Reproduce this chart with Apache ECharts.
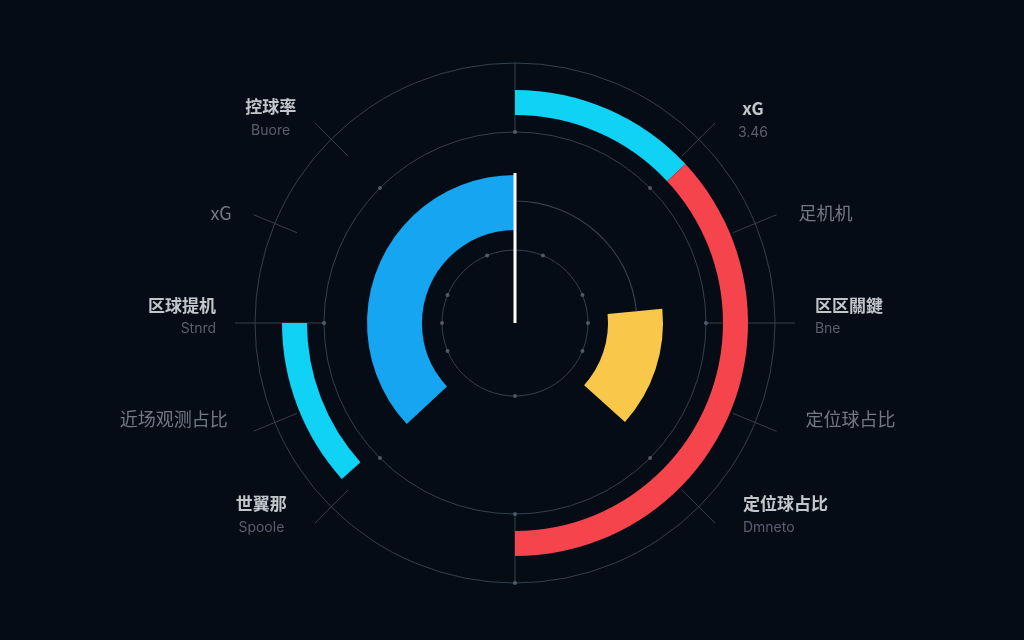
<!DOCTYPE html>
<html>
<head>
<meta charset="utf-8">
<title>Radial match profile</title>
<script src="https://cdn.jsdelivr.net/npm/echarts@6/dist/echarts.min.js"></script>
<style>
  html, body { margin: 0; padding: 0; background: #060c15; }
  #chart { width: 1024px; height: 640px; }
</style>
</head>
<body>
<div id="chart"></div>
<script>
// --- data (angles in degrees, clockwise from 12 o'clock) ---
const outerStarts = [0, 47, 228];
const outerEnds = [47, 180, 270];
const innerStarts = [84.5, 227];
const innerEnds = [132, 360];
const arcStarts = [0];
const arcEnds = [84.5];
const needleAngle = 0;
const needleLength = 150;

const labelTitles = ['控球率', 'xG', '区球提机', '近场观测占比', '世翼那',
  'xG', '足机机', '区区關鍵', '定位球占比', '定位球占比'];
const labelSubs = ['Buore', '', 'Stnrd', '', 'Spoole', '3.46', '', 'Bne', '', 'Dmneto'];
const spokeAngles = [315, 292.5, 270, 247.5, 225, 45, 67.5, 90, 112.5, 135, 0, 180];
const ringDotAngles = [0, 45, 90, 135, 180, 225, 270, 315];
const coreDotAngles = [22.5, 67.5, 90, 112.5, 180, 247.5, 270, 292.5, 337.5];

// --- theme / layout ---
const THEME = {
  bg: '#060c15',
  grid: '#33404e',
  dot: '#5b6977',
  title: '#f1f4f7',
  sub: '#6a7684',
  muted: '#8a96a3',
  cyan: '#10d2f4',
  red: '#f5444c',
  blue: '#16a5f0',
  yellow: '#f9c84b',
  needle: '#ffffff'
};
const CENTER = [515, 323];
const OUTER_COLORS = [THEME.cyan, THEME.red, THEME.cyan];
const INNER_COLORS = [THEME.yellow, THEME.blue];
// label anchor [radius, angle, align]
const LABEL_POS = [
  [319, 310, 'center'], [304, 291.2, 'right'], [299, 271.3, 'right'], [303, 251.5, 'right'], [318, 232.9, 'center'],
  [313, 49.5, 'center'], [304, 68.8, 'left'], [300, 88.7, 'left'], [306, 108.3, 'left'], [298, 130.1, 'left']
];

const chart = echarts.init(document.getElementById('chart'));

// polar list: 0 inner ring, 1 outer ring, 2 partial arc, 3-5 grid circles, 6 overlay
const polarRadii = [[93, 148], [208, 233], [121.4, 122.6], [0, 73], [0, 191], [0, 260], [0, 340]];

const polar = polarRadii.map(r => ({ center: CENTER, radius: r }));
const angleAxis = polarRadii.map((r, i) => ({
  polarIndex: i,
  type: 'value',
  min: 0,
  max: 360,
  startAngle: 90,
  clockwise: true,
  axisLine: { show: i >= 3 && i <= 5, lineStyle: { color: THEME.grid, width: 1 } },
  axisTick: { show: false },
  axisLabel: { show: false },
  splitLine: { show: false }
}));
const radiusAxis = polarRadii.map((r, i) => (i < 3
  ? { polarIndex: i, type: 'category', data: ['r'], show: false }
  : { polarIndex: i, type: 'value', min: 0, max: i === 6 ? 340 : 1, show: false }));

function barPiece(polarIndex, stack, value, color) {
  return {
    type: 'bar',
    coordinateSystem: 'polar',
    polarIndex,
    stack,
    data: [value],
    barWidth: '100%',
    silent: true,
    itemStyle: { color }
  };
}

// stacked pieces with transparent gaps between segments
function ringSeries(polarIndex, starts, ends, colors, stack) {
  const out = [];
  let prev = 0;
  starts.forEach((s, i) => {
    if (s > prev) out.push(barPiece(polarIndex, stack, s - prev, 'transparent'));
    out.push(barPiece(polarIndex, stack, ends[i] - s, colors[i]));
    prev = ends[i];
  });
  return out;
}

function spokeSeries(angle) {
  const straight = angle % 90 === 0;
  const vertical = angle % 180 === 0;
  const r0 = vertical ? 191 : (straight ? 189 : 236);
  const r1 = vertical ? 260 : (straight ? 280 : 283);
  return {
    type: 'line',
    coordinateSystem: 'polar',
    polarIndex: 6,
    data: [[r0, angle], [r1, angle]],
    symbol: 'none',
    silent: true,
    lineStyle: { color: THEME.grid, width: 1 },
    z: 1
  };
}

const labelData = labelTitles.map((t, i) => {
  const [r, a, align] = LABEL_POS[i];
  const sub = labelSubs[i];
  const twoLine = sub !== '' || i === 0;
  return {
    value: [r, a],
    label: {
      align,
      formatter: twoLine ? `{t|${t}}\n{s|${sub}}` : `{g|${t}}`
    }
  };
});

const series = [
  ...ringSeries(0, innerStarts, innerEnds, INNER_COLORS, 'inner'),
  ...ringSeries(1, outerStarts, outerEnds, OUTER_COLORS, 'outer'),
  ...ringSeries(2, arcStarts, arcEnds, [THEME.grid], 'arc'),
  ...spokeAngles.map(spokeSeries),
  {
    type: 'scatter',
    coordinateSystem: 'polar',
    polarIndex: 6,
    symbolSize: 4,
    silent: true,
    itemStyle: { color: THEME.dot },
    data: [
      ...ringDotAngles.map(a => [191, a]),
      ...coreDotAngles.map(a => [73, a]),
      [260, 180]
    ],
    z: 3
  },
  {
    type: 'line',
    coordinateSystem: 'polar',
    polarIndex: 6,
    symbol: 'none',
    silent: true,
    data: [[0, needleAngle], [needleLength, needleAngle]],
    lineStyle: { color: THEME.needle, width: 3 },
    z: 5
  },
  {
    type: 'scatter',
    coordinateSystem: 'polar',
    polarIndex: 6,
    symbolSize: 0,
    silent: true,
    data: labelData,
    label: {
      show: true,
      position: 'inside',
      verticalAlign: 'middle',
      lineHeight: 24,
      rich: {
        t: { color: THEME.title, fontSize: 17, fontWeight: 'bold', lineHeight: 26,
          fontFamily: 'Noto Sans CJK SC, Inter, sans-serif' },
        s: { color: THEME.sub, fontSize: 14, lineHeight: 22, fontFamily: 'Inter, Noto Sans, sans-serif' },
        g: { color: THEME.muted, fontSize: 18, fontFamily: 'Noto Sans CJK SC, Inter, sans-serif' }
      }
    }
  }
];

chart.setOption({
  backgroundColor: THEME.bg,
  animation: false,
  polar,
  angleAxis,
  radiusAxis,
  series
});
</script>
</body>
</html>
